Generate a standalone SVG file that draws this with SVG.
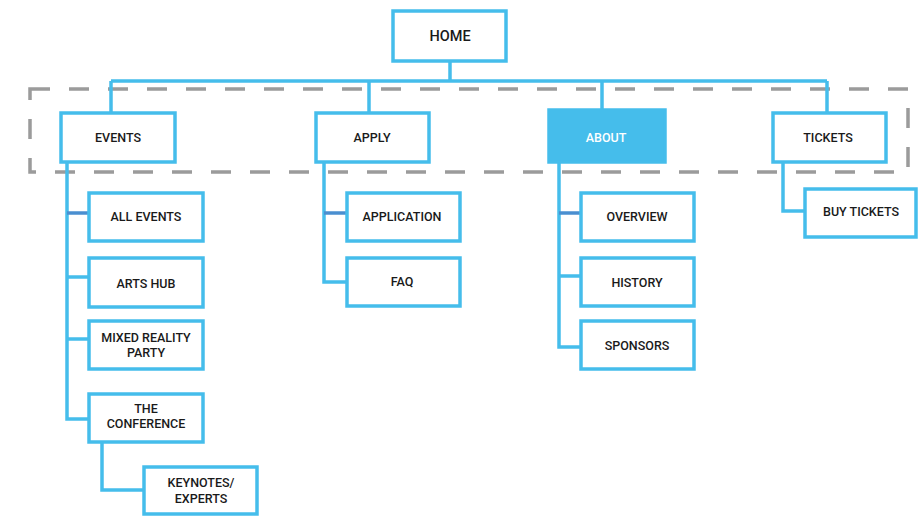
<svg xmlns="http://www.w3.org/2000/svg" width="918" height="517" viewBox="0 0 918 517">
<style>
.bg{fill:#ffffff}
.box{fill:#ffffff;stroke:#45BDEB;stroke-width:3.5}
.sel{fill:#45BDEB;stroke:#45BDEB;stroke-width:3.5}
.ln{fill:none;stroke:#45BDEB;stroke-width:3.5}
.dk{fill:none;stroke:#4A8FD0;stroke-width:3.5}
.grp{fill:none;stroke:#9B9B9B;stroke-width:3.5;stroke-dasharray:20 19}
text{font-family:Roboto,"DejaVu Sans",sans-serif;font-weight:500;font-size:12.5px;fill:#1a1a1a;text-anchor:middle}
.wt{fill:#ffffff}
.big{font-size:14.5px}
</style>
<rect class="bg" x="0" y="0" width="918" height="517"/>
<rect id="section-group" class="grp" x="30" y="89" width="878" height="83"/>
<g id="connectors">
<path class="ln" d="M450 61V81M111 81H827M111 81V112M369 81V112M602 81V109M827 81V112"/>
<path class="ln" d="M67 162V419H88M67 277H88M67 339H88"/>
<path class="dk" d="M67 213H88"/>
<path class="ln" d="M102 443V490H143"/>
<path class="ln" d="M324 162V282H346"/>
<path class="dk" d="M324 213H346"/>
<path class="ln" d="M559 163V347H580M559 276H580"/>
<path class="dk" d="M559 213H580"/>
<path class="ln" d="M783 162V211H804"/>
</g>
<g id="home"><rect class="box" x="393" y="11" width="113" height="50"/><text class="big" x="450" y="41">HOME</text></g>
<g id="events"><rect class="box" x="61" y="113" width="114" height="49"/><text x="118" y="142">EVENTS</text></g>
<g id="apply"><rect class="box" x="316" y="113" width="113" height="49"/><text x="372" y="142">APPLY</text></g>
<g id="about"><rect class="sel" x="549" y="110" width="116" height="52"/><text class="wt" x="606" y="142">ABOUT</text></g>
<g id="tickets"><rect class="box" x="773" y="113" width="113" height="49"/><text x="828" y="142">TICKETS</text></g>
<g id="all-events"><rect class="box" x="89" y="193" width="114" height="48"/><text x="146" y="221">ALL EVENTS</text></g>
<g id="arts-hub"><rect class="box" x="89" y="258" width="114" height="49"/><text x="146" y="288">ARTS HUB</text></g>
<g id="mixed-reality"><rect class="box" x="89" y="321" width="114" height="48"/><text x="146" y="342">MIXED REALITY</text><text x="146" y="357">PARTY</text></g>
<g id="conference"><rect class="box" x="89" y="394" width="114" height="48"/><text x="146" y="413">THE</text><text x="146" y="428">CONFERENCE</text></g>
<g id="keynotes"><rect class="box" x="144" y="467" width="113" height="47"/><text x="201" y="487">KEYNOTES/</text><text x="201" y="503">EXPERTS</text></g>
<g id="application"><rect class="box" x="347" y="193" width="113" height="48"/><text x="402" y="221">APPLICATION</text></g>
<g id="faq"><rect class="box" x="347" y="258" width="113" height="48"/><text x="402" y="286">FAQ</text></g>
<g id="overview"><rect class="box" x="581" y="193" width="113" height="48"/><text x="637" y="221">OVERVIEW</text></g>
<g id="history"><rect class="box" x="581" y="258" width="113" height="48"/><text x="637" y="287">HISTORY</text></g>
<g id="sponsors"><rect class="box" x="581" y="321" width="113" height="48"/><text x="637" y="350">SPONSORS</text></g>
<g id="buy-tickets"><rect class="box" x="805" y="189" width="111" height="48"/><text x="861" y="216">BUY TICKETS</text></g>
</svg>
